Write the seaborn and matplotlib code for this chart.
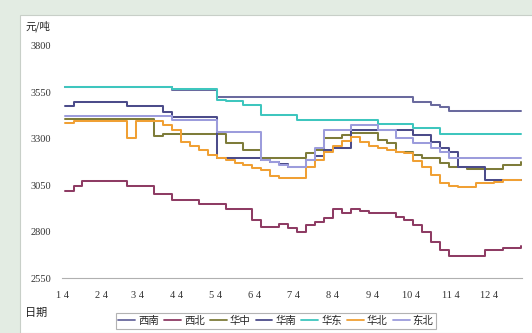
import pandas as pd
import numpy as np
import matplotlib
matplotlib.use("Agg")
import matplotlib.pyplot as plt
import seaborn as sns

# weekly prices, yuan/ton
dates = pd.date_range("2011-01-06", periods=52, freq="7D")

xinan = [3579] * 12 + [3563] * 5 + [3525] * 22 + [3498, 3498, 3482, 3471] + [3450] * 9
xibei = [3020, 3046, 3072, 3072, 3072, 3072, 3072, 3046, 3046, 3046, 3002, 3002, 2970,
         2970, 2970, 2948, 2948, 2948, 2921, 2921, 2921, 2862, 2824, 2824, 2841, 2819,
         2797, 2835, 2851, 2873, 2921, 2900, 2921, 2911, 2900, 2900, 2900, 2878, 2862,
         2835, 2797, 2744, 2700, 2668, 2668, 2668, 2668, 2700, 2700, 2711, 2711, 2722]
huazhong = [3405] * 10 + [3315] + [3328] * 7 + [3277, 3277, 3239, 3239, 3196, 3196, 3196,
            3196, 3196, 3223, 3239, 3304, 3304, 3320, 3331, 3331, 3331, 3293, 3277, 3229,
            3229, 3212, 3196, 3196, 3169, 3148, 3148, 3137, 3137, 3137, 3137, 3159, 3159, 3175]
huanan = [3477] + [3498] * 6 + [3477] * 4 + [3444, 3417, 3417, 3417, 3417, 3417] + [3196] * 5 + \
         [3186, 3175, 3164, 3148, 3148, 3186, 3207, 3240, 3250, 3250] + [3347] * 7 + \
         [3320, 3320, 3283, 3250, 3229, 3148, 3148, 3148] + [3078] * 5
huadong = [3579] * 12 + [3568] * 5 + [3509, 3504, 3504, 3482, 3482] + [3428] * 4 + \
          [3401] * 9 + [3380] * 4 + [3358] * 3 + [3326] * 10
huabei = [3385, 3396, 3396, 3396, 3396, 3396, 3396, 3304, 3396, 3396, 3396, 3374, 3347,
          3283, 3260, 3239, 3212, 3196, 3186, 3170, 3159, 3142, 3132, 3100, 3089, 3089,
          3089, 3150, 3186, 3229, 3260, 3290, 3310, 3283, 3260, 3250, 3239, 3229, 3223,
          3180, 3148, 3105, 3062, 3046, 3040, 3040, 3062, 3062, 3067, 3078, 3078, 3078]
dongbei = [3425] * 12 + [3401] * 5 + [3336] * 5 + [3186, 3175, 3159, 3148, 3148, 3186, 3250,
           3347, 3347, 3347, 3374, 3374, 3374, 3347, 3347, 3304, 3304, 3277, 3277, 3250,
           3229] + [3196] * 9

regions = ["西南", "西北", "华中", "华南", "华东", "华北", "东北"]
series = [xinan, xibei, huazhong, huanan, huadong, huabei, dongbei]
colors = ["#6a6a9e", "#8e3c64", "#7e7c3a", "#4c4c8a", "#3ec6be", "#f0a034", "#9c9cdc"]

month_ticks = pd.date_range("2011-01-01", periods=12, freq="MS") + pd.Timedelta(days=3)
tick_labels = [f"{m} 4" for m in range(1, 13)]

rows = []
for name, vals in zip(regions, series):
    for d, v in zip(dates, vals):
        rows.append({"date": d, "price": v, "region": name})
df = pd.DataFrame(rows)

sns.set_theme(style="white")
plt.rcParams["font.family"] = ["Noto Sans CJK SC", "DejaVu Sans"]

fig = plt.figure(figsize=(5.32, 3.33), dpi=100, facecolor="#e3ece3")
panel = plt.Rectangle((20 / 532, 0), 1, 1 - 15 / 333, transform=fig.transFigure,
                      facecolor="white", edgecolor="#c8cfc8", lw=0.8, zorder=-5)
fig.patches.append(panel)

ax = fig.add_axes([62 / 532, 55 / 333, 460 / 532, 232 / 333])
ax.set_facecolor("none")
ax.set_zorder(2)

sns.lineplot(data=df, x="date", y="price", hue="region", hue_order=regions,
             palette=colors, drawstyle="steps-post", linewidth=1.45, ax=ax, legend=False)

ax.set_ylim(2550, 3800)
ax.set_yticks([2550, 2800, 3050, 3300, 3550, 3800])
ax.set_xlim(pd.Timestamp("2011-01-04"), pd.Timestamp("2011-12-30"))
ax.set_xticks(month_ticks)
ax.set_xticklabels(tick_labels)

for s in ["left", "top", "right"]:
    ax.spines[s].set_visible(False)
ax.spines["bottom"].set_color("#b0b0b0")
ax.spines["bottom"].set_linewidth(0.8)

ax.tick_params(axis="y", length=3, color="#999999", width=0.6, pad=5,
               labelsize=7.5, labelcolor="#333333")
ax.tick_params(axis="x", length=0, pad=9, labelsize=7.5, labelcolor="#333333")
for lab in ax.get_yticklabels() + ax.get_xticklabels():
    lab.set_fontfamily(["Liberation Serif", "DejaVu Serif"])

ax.set_xlabel("")
ax.set_ylabel("")
fig.text(25 / 532, 1 - 26 / 333, "元/吨", fontsize=7.5, va="center", ha="left", color="#222222")
fig.text(25 / 532, 1 - 313 / 333, "日期", fontsize=8, va="center", ha="left", color="#222222")

handles = [plt.Line2D([], [], color=c, lw=1.3) for c in colors]
leg = fig.legend(handles, regions, loc="center", bbox_to_anchor=(276 / 532, 1 - 321 / 333),
                 ncol=7, frameon=True, fontsize=7.5, handlelength=1.6, handletextpad=0.3,
                 columnspacing=0.5, borderpad=0.25, fancybox=False)
leg.get_frame().set_edgecolor("#a0a0a0")
leg.get_frame().set_linewidth(0.8)

fig.savefig("out.png", dpi=100, facecolor=fig.get_facecolor())
